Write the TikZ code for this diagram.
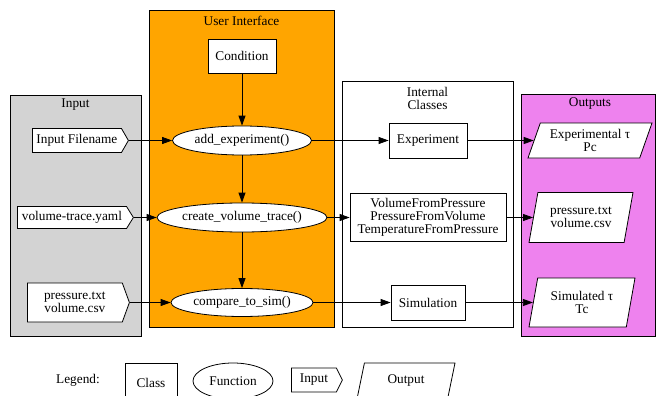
\documentclass[tikz,border=0pt]{standalone}
\usepackage{fontspec}
\setmainfont{Liberation Serif}
\usetikzlibrary{shapes.geometric,shapes.symbols,arrows.meta}

\definecolor{uiorange}{HTML}{FFA500}
\definecolor{ingray}{HTML}{D3D3D3}
\definecolor{outviolet}{HTML}{EE82EE}

\begin{document}
\begin{tikzpicture}[x=1pt, y=-1pt, font=\rmfamily\fontsize{13.3}{13.3}\selectfont]
    % Define styles
    \tikzset{
        cluster/.style={
            draw,
            line width=0.8pt
        },
        classbox/.style={
            draw,
            fill=white,
            rectangle,
            align=center,
            inner sep=0pt,
            line width=0.8pt
        },
        func/.style={
            draw,
            fill=white,
            ellipse,
            inner sep=0pt,
            line width=0.8pt
        },
        inputbox/.style={
            draw,
            fill=white,
            signal,
            signal to=east,
            align=center,
            inner sep=0pt,
            anchor=west,
            line width=0.8pt
        },
        outputbox/.style={
            draw,
            fill=white,
            trapezium,
            trapezium stretches body,
            align=center,
            inner sep=0pt,
            line width=0.8pt
        },
        flow/.style={
            -{Triangle[length=10pt,width=7pt]},
            line width=0.8pt
        },
        title/.style={
            align=center,
            inner sep=0pt
        }
    }

    \useasboundingbox (0,0) rectangle (656,396);
    \clip (0,0) rectangle (656,396);

    % Clusters
    \draw[cluster, fill=ingray] (10,95) rectangle (141,336);
    \node[title] (ttlin) at (75.5,105) {Input};
    \draw[cluster, fill=uiorange] (149,10) rectangle (334,327);
    \node[title] (ttlui) at (241.5,21) {User Interface};
    \draw[cluster, fill=white] (342,81) rectangle (513,327);
    \node[title] (ttlcls) at (427.5,98.5) {Internal\\Classes};
    \draw[cluster, fill=outviolet] (521,94) rectangle (655.5,336);
    \node[title] (ttlout) at (590,104) {Outputs};

    % User interface
    \node[classbox, minimum width=68, minimum height=34] (cond) at (242,56) {Condition};
    \node[func, minimum width=139, minimum height=29] (addexp) at (242,140.5) {add\_experiment()};
    \node[func, minimum width=170, minimum height=29] (mktrace) at (242,217.5) {create\_volume\_trace()};
    \node[func, minimum width=142, minimum height=28] (cmpsim) at (242,302.5) {compare\_to\_sim()};

    % Inputs
    \node[inputbox, signal pointer angle=120, minimum width=96, minimum height=24] (infile) at (32,140.5) {Input Filename};
    \node[inputbox, signal pointer angle=116, minimum width=116, minimum height=22] (inyaml) at (17,217.5) {volume-trace.yaml};
    \node[inputbox, signal pointer angle=140, minimum width=102, minimum height=39] (indata) at (27,302.5) {pressure.txt\\volume.csv};

    % Internal classes
    \node[classbox, minimum width=78, minimum height=35] (expt) at (428,140.5) {Experiment};
    \node[classbox, minimum width=156, minimum height=48] (volcls) at (428,217.5) {VolumeFromPressure\\PressureFromVolume\\TemperatureFromPressure};
    \node[classbox, minimum width=74, minimum height=35] (simcls) at (428,302.5) {Simulation};

    % Outputs
    \node[outputbox, trapezium left angle=61.5, trapezium right angle=118.5, minimum width=124, minimum height=35] (outexp) at (590,140.5) {Experimental τ\\Pc};
    \node[outputbox, trapezium left angle=67, trapezium right angle=113, minimum width=104, minimum height=50] (outdat) at (581,217.5) {pressure.txt\\volume.csv};
    \node[outputbox, trapezium left angle=69, trapezium right angle=111, minimum width=106, minimum height=49] (outsim) at (582,302.5) {Simulated τ\\Tc};

    % Connections
    \draw[flow] (cond) -- (addexp);
    \draw[flow] (addexp) -- (mktrace);
    \draw[flow] (mktrace) -- (cmpsim);
    \draw[flow] (infile) -- (addexp);
    \draw[flow] (inyaml) -- (mktrace);
    \draw[flow] (indata) -- (cmpsim);
    \draw[flow] (addexp) -- (expt);
    \draw[flow] (mktrace) -- (volcls);
    \draw[flow] (cmpsim) -- (simcls);
    \draw[flow] (expt) -- (outexp);
    \draw[flow] (volcls) -- (outdat);
    \draw[flow] (simcls) -- (outsim);

    % Legend
    \node[title] (lgd) at (78,380.5) {Legend:};
    \node[classbox, minimum width=52, minimum height=40] (lgcls) at (151,383) {Class};
    \node[func, minimum width=80, minimum height=36] (lgfun) at (233,381) {Function};
    \node[inputbox, signal pointer angle=127, minimum width=51, minimum height=24] (lginp) at (291,380) {Input};
    \node[outputbox, trapezium left angle=57.5, trapezium right angle=122.5, minimum width=98, minimum height=36] (lgout) at (406,381) {Output};
\end{tikzpicture}
\end{document}
